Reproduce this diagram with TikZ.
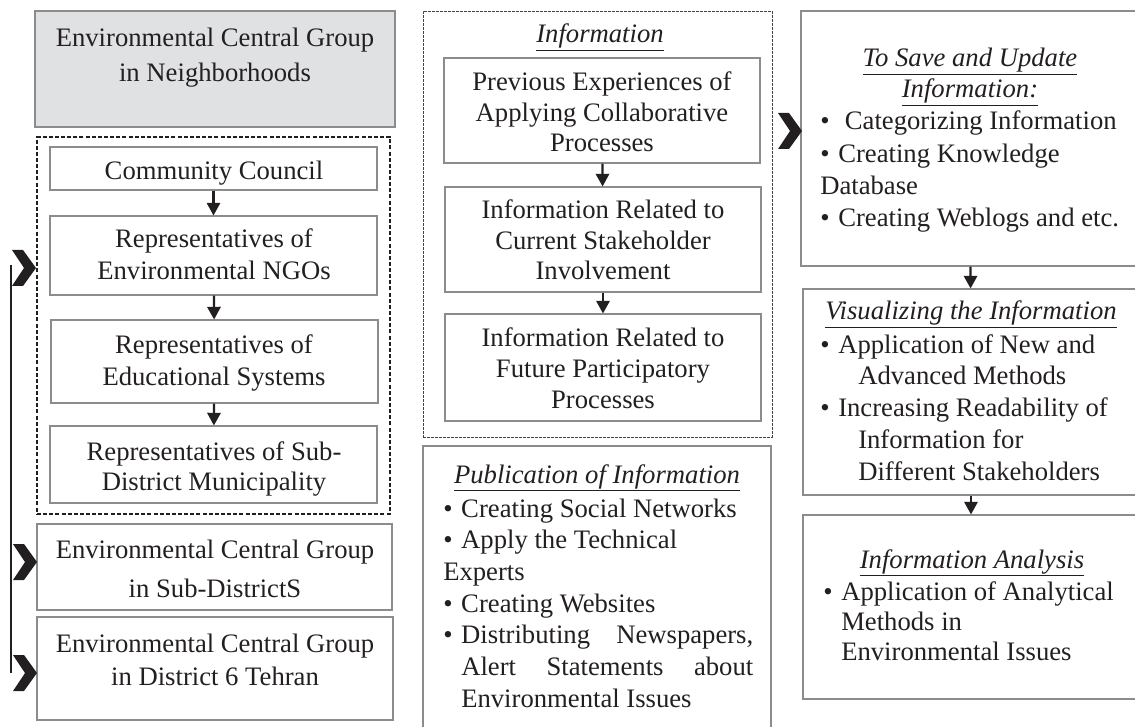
\documentclass[tikz,border=0pt]{standalone}
\usepackage{fontspec}
\setmainfont{Liberation Serif}
\usetikzlibrary{arrows.meta,fit}
\definecolor{groupgray}{RGB}{224,225,227}
\definecolor{boxline}{RGB}{140,140,140}
\definecolor{ink}{RGB}{35,31,32}
\newcommand{\itm}{\makebox[13.5pt][l]{\textbullet}}
\newcommand{\chev}[2]{\fill[ink] (#1-24, #2-18) -- (#1-13, #2-18) -- (#1, #2) -- (#1-13, #2+18) -- (#1-24, #2+18) -- (#1-12, #2) -- cycle;}

\begin{document}
\begin{tikzpicture}[x=0.75pt, y=-0.75pt,
    box/.style={draw=boxline, line width=0.8pt, inner sep=0pt},
    dbox/.style={draw=ink, line width=1.1pt, dash pattern=on 3pt off 1.6pt, inner sep=0pt},
    tbox/.style={draw=ink!85, line width=0.6pt, dash pattern=on 2pt off 1pt, inner sep=0pt},
    txt/.style={font=\fontsize{20}{#1}\selectfont, text=ink, inner sep=0pt, anchor=base},
    txt/.default=24pt,
    arr/.style={-{Triangle[width=10pt, length=9.5pt]}, line width=1.7pt, draw=ink}]
    \useasboundingbox (0, 0) rectangle (1135, 727);

    \node[box, fill=groupgray, fit={(35, 11) (395, 127)}] (gray) {};
    \node[dbox, fit={(37, 137) (390, 514)}] (ldash) {};
    \node[box, fit={(50, 147) (377, 190)}] (cc) {};
    \node[box, fit={(50, 216) (377, 295)}] (ngo) {};
    \node[box, fit={(51, 320) (378, 403)}] (edu) {};
    \node[box, fit={(50, 426) (377, 503)}] (muni) {};
    \node[box, fit={(37, 524) (392, 610)}] (subd) {};
    \node[box, fit={(37, 617) (393, 720)}] (dist) {};

    \node[tbox, fit={(423, 11) (772, 437)}] (mdash) {};
    \node[box, fit={(444, 58) (760, 163)}] (prev) {};
    \node[box, fit={(445, 187) (761, 292)}] (curr) {};
    \node[box, fit={(445, 314) (761, 421)}] (fut) {};
    \node[box, fit={(423, 446) (771, 740)}] (pub) {};

    \node[box, fit={(801, 11) (1139, 266)}] (save) {};
    \node[box, fit={(803, 289) (1139, 495)}] (vis) {};
    \node[box, fit={(803, 515) (1139, 699)}] (ana) {};

    \node[txt=26.25pt, align=center] (tgray) at (215, 82) {Environmental Central Group\\in Neighborhoods};
    \node[txt] (tcc) at (214, 180) {Community Council};
    \node[txt, align=center] (tngo) at (214, 280) {Representatives of\\Environmental NGOs};
    \node[txt, align=center] (tedu) at (214, 385) {Representatives of\\Educational Systems};
    \node[txt=22.5pt, align=center] (tmuni) at (214, 490) {Representatives of Sub-\\District Municipality};
    \node[txt=29.25pt, align=center] (tsubd) at (215, 597) {Environmental Central Group\\in Sub-DistrictS};
    \node[txt=24.75pt, align=center] (tdist) at (215, 685) {Environmental Central Group\\in District 6 Tehran};

    \node[txt] (tinfo) at (600, 43) {\underline{\textit{Information}}};
    \node[txt=22.9pt, align=center] (tprev) at (602, 152) {Previous Experiences of\\Applying Collaborative\\Processes};
    \node[txt=22.9pt, align=center] (tcurr) at (603, 280) {Information Related to\\Current Stakeholder\\Involvement};
    \node[txt=22.9pt, align=center] (tfut) at (603, 408) {Information Related to\\Future Participatory\\Processes};

    \node[txt] (tpubh) at (597, 483) {\underline{\textit{Publication of Information}}};
    \node[txt=23.75pt, align=left, anchor=base west] (tpub) at (443, 707) {\itm Creating Social Networks\\\itm Apply the Technical\\Experts\\\itm Creating Websites\\\itm\makebox[219pt][s]{Distributing Newspapers,}\\\hspace*{13.5pt}\makebox[219pt][s]{Alert Statements about}\\\hspace*{13.5pt}Environmental Issues};

    \node[txt=23.25pt, align=center] (tsaveh) at (970, 98) {\underline{\textit{To Save and Update}}\\\underline{\textit{Information:}}};
    \node[txt=24.25pt, align=left, anchor=base west] (tsave) at (820, 227) {\itm\hspace{5pt}Categorizing Information\\\itm Creating Knowledge\\Database\\\itm Creating Weblogs and etc.};
    \node[txt] (tvish) at (971, 320) {\underline{\textit{Visualizing the Information}}};
    \node[txt=23.8pt, align=left, anchor=base west] (tvis) at (820, 480) {\itm Application of New and\\\hspace*{28.5pt}Advanced Methods\\\itm Increasing Readability of\\\hspace*{28.5pt}Information for\\\hspace*{28.5pt}Different Stakeholders};
    \node[txt] (tanah) at (972, 568) {\underline{\textit{Information Analysis}}};
    \node[txt=22.5pt, align=left, anchor=base west] (tana) at (823, 660) {\itm Application of Analytical\\\hspace*{13.5pt}Methods in\\\hspace*{13.5pt}Environmental Issues};

    \draw[arr] (cc) -- (ngo);
    \draw[arr] (ngo) -- (edu);
    \draw[arr] (edu) -- (muni);
    \draw[arr] (prev) -- (curr);
    \draw[arr] (curr) -- (fut);
    \draw[arr] (save) -- (vis);
    \draw[arr] (vis) -- (ana);

    \coordinate (vtop) at (11, 265);
    \coordinate (vbot) at (11, 673);
    \draw[ink, line width=0.8pt] (vtop) -- (vbot);
    \chev{36}{268}
    \chev{37}{562}
    \chev{37}{673}
    \chev{802}{131}
\end{tikzpicture}
\end{document}
